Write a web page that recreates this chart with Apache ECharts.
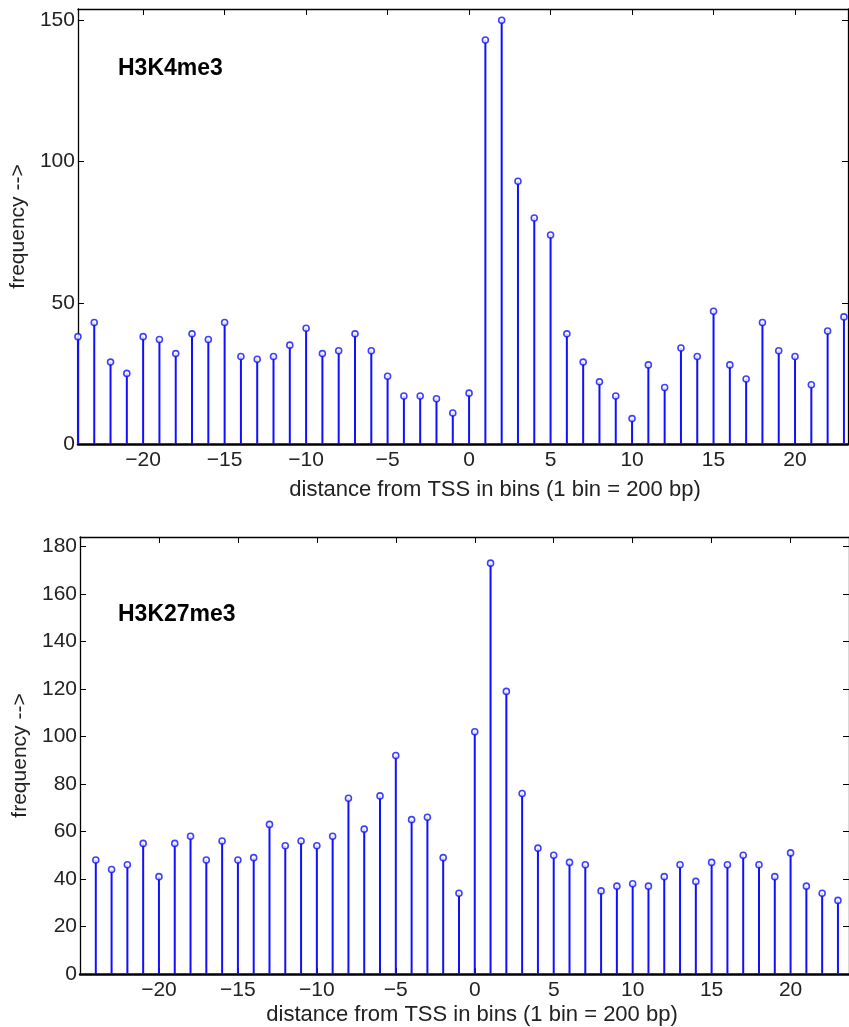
<!DOCTYPE html>
<html>
<head>
<meta charset="utf-8">
<title>H3K4me3 / H3K27me3 - distance from TSS</title>
<script src="https://cdn.jsdelivr.net/npm/echarts@6/dist/echarts.min.js"></script>
<style>
    html, body { margin: 0; padding: 0; background: #fff; }
    #page { width: 849px; height: 1027px; }
</style>
</head>
<body>
<div id="page"></div>
<script>
    // bins relative to the TSS (1 bin = 200 bp)
    var bins = [-24, -23, -22, -21, -20, -19, -18, -17, -16, -15, -14, -13, -12, -11, -10, -9, -8, -7, -6, -5, -4, -3,
        -2, -1, 0, 1, 2, 3, 4, 5, 6, 7, 8, 9, 10, 11, 12, 13, 14, 15, 16, 17, 18, 19, 20, 21, 22, 23];

    var h3k4me3 = [38, 43, 29, 25, 38, 37, 32, 39, 37, 43, 31, 30, 31, 35, 41, 32, 33, 39, 33, 24, 17, 17,
        16, 11, 18, 143, 150, 93, 80, 74, 39, 29, 22, 17, 9, 28, 20, 34, 31, 47, 28, 23, 43, 33, 31, 21, 40, 45];

    var h3k27me3 = [48, 44, 46, 55, 41, 55, 58, 48, 56, 48, 49, 63, 54, 56, 54, 58, 74, 61, 75, 92, 65, 66,
        49, 34, 102, 173, 119, 76, 53, 50, 47, 46, 35, 37, 38, 37, 41, 46, 39, 47, 46, 50, 46, 41, 51, 37, 34, 31];

    var xTicks = [-20, -15, -10, -5, 0, 5, 10, 15, 20];
    var xName = 'distance from TSS in bins (1 bin = 200 bp)';
    var yName = 'frequency -->';

    var FONT = '"Liberation Sans", Arial, sans-serif';
    var BLUE = '#1010ff';

    function pairs(values) {
        var out = [];
        for (var i = 0; i < bins.length; i++) {
            out.push([bins[i], values[i]]);
        }
        return out;
    }

    function minus(v) {
        return String(v).replace('-', '\u2212');
    }

    // one stem panel = one grid with a box of 4 axes
    function panel(idx, xMin, xMax, yMax, yStep) {
        var tick = {inside: true, length: 6, lineStyle: {color: '#000', width: 1}};
        return {
            xAxis: [{
                gridIndex: idx, type: 'value', min: xMin, max: xMax, position: 'bottom',
                axisLine: {onZero: false, lineStyle: {color: '#000', width: 2.5}},
                axisTick: Object.assign({customValues: xTicks}, tick),
                axisLabel: {customValues: xTicks, formatter: minus, fontSize: 21, color: '#222',
                    fontFamily: FONT, margin: 6},
                splitLine: {show: false}
            }, {
                gridIndex: idx, type: 'value', min: xMin, max: xMax, position: 'top',
                axisLine: {onZero: false, lineStyle: {color: '#000', width: 1.3}},
                axisTick: Object.assign({customValues: xTicks}, tick),
                axisLabel: {show: false},
                splitLine: {show: false}
            }],
            yAxis: [{
                gridIndex: idx, type: 'value', min: 0, max: yMax, interval: yStep, position: 'left',
                axisLine: {show: true, onZero: false, lineStyle: {color: '#000', width: 1.3}},
                axisTick: tick,
                axisLabel: {fontSize: 21, color: '#222', fontFamily: FONT, margin: 3},
                splitLine: {show: false},
                name: yName, nameLocation: 'middle', nameGap: 45,
                nameTextStyle: {fontSize: 21, color: '#222', fontFamily: FONT}
            }, {
                gridIndex: idx, type: 'value', min: 0, max: yMax, interval: yStep, position: 'right',
                axisLine: {show: true, onZero: false, lineStyle: {color: '#000', width: 1.3}},
                axisTick: tick,
                axisLabel: {show: false},
                splitLine: {show: false}
            }]
        };
    }

    function stems(idx, values) {
        return [{
            type: 'bar', xAxisIndex: idx * 2, yAxisIndex: idx * 2, barWidth: 2,
            itemStyle: {color: BLUE}, silent: true, data: pairs(values)
        }, {
            type: 'scatter', xAxisIndex: idx * 2, yAxisIndex: idx * 2, symbol: 'circle', symbolSize: 6,
            itemStyle: {color: '#fff', borderColor: BLUE, borderWidth: 1.6}, silent: true, z: 5,
            data: pairs(values)
        }];
    }

    var p0 = panel(0, -24, 23.25, 154, 50);
    var p1 = panel(1, -25, 23.7, 184, 20);

    var chart = echarts.init(document.getElementById('page'), null, {renderer: 'canvas'});
    chart.setOption({
        animation: false,
        backgroundColor: '#fff',
        grid: [
            {left: 75, top: 9, right: 1, bottom: 583},
            {left: 80, top: 537, right: 0, bottom: 53}
        ],
        xAxis: p0.xAxis.concat(p1.xAxis),
        yAxis: p0.yAxis.concat(p1.yAxis),
        series: stems(0, h3k4me3).concat(stems(1, h3k27me3)),
        graphic: [
            {type: 'text', x: 118, y: 69, style: {text: 'H3K4me3', font: 'bold 23px ' + FONT,
                fill: '#000', textVerticalAlign: 'middle'}},
            {type: 'text', x: 118, y: 615, style: {text: 'H3K27me3', font: 'bold 23px ' + FONT,
                fill: '#000', textVerticalAlign: 'middle'}},
            {type: 'text', x: 495, y: 490, style: {text: xName, font: '22px ' + FONT,
                fill: '#222', textAlign: 'center', textVerticalAlign: 'middle'}},
            {type: 'text', x: 472, y: 1015, style: {text: xName, font: '22px ' + FONT,
                fill: '#222', textAlign: 'center', textVerticalAlign: 'middle'}}
        ]
    });
</script>
</body>
</html>
